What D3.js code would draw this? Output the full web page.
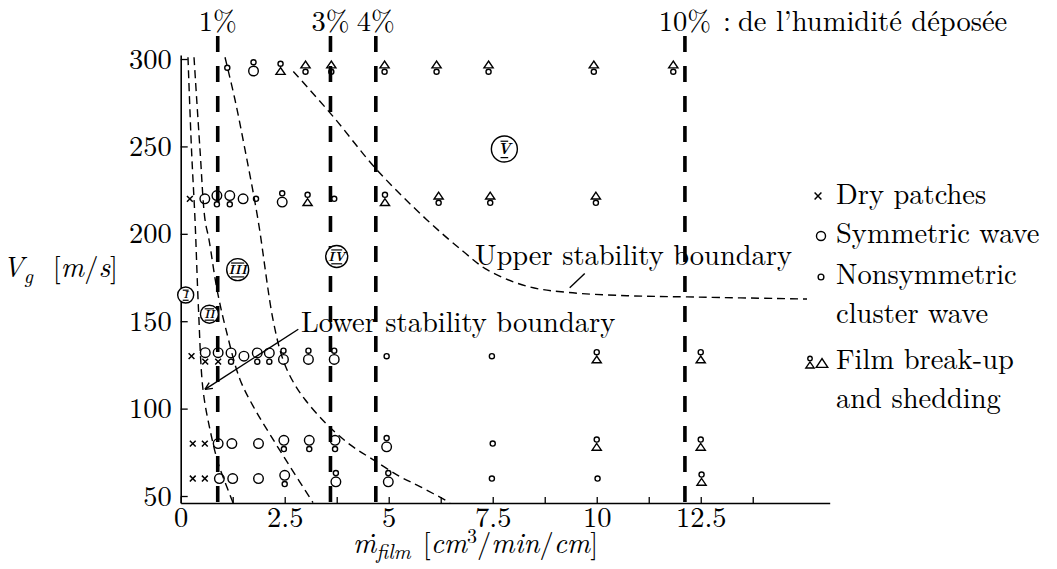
<!DOCTYPE html>
<html><head><meta charset="utf-8">
<script src="https://cdn.jsdelivr.net/npm/d3@7"></script>
</head><body style="margin:0;background:#fff">
<svg id="c" width="1057" height="569" style="display:block;background:#fff"></svg>
<script>
// ---------- data ----------
const xTickValues = [0,1.25,2.5,3.75,5,6.25,7.5,8.75,10,11.25,12.5,13.75];
const xTickLabels = ["0","","2.5","","5","","7.5","","10","","12.5",""];
const yTickValues = [50,100,150,200,250,300];
const yTickLabels = ["50","100","150","200","250","300"];

// gas speed rows (m/s) and observations: [film flow, glyph stack top->bottom]
// x = dry patch, O = symmetric wave, o = nonsymmetric cluster wave, T = film break-up
const speedRows = [295, 220, 130, 80, 60];
const row295 = [[1.12,"o"],[1.75,"oO"],[2.4,"oT"],[3.0,"To"],[3.62,"To"],[4.9,"To"],[6.15,"To"],[7.4,"To"],[9.93,"To"],[11.84,"To"]];
const row220 = [[0.22,"x"],[0.58,"O"],[0.87,"Oo"],[1.18,"Oo"],[1.5,"O"],[1.81,"o"],[2.44,"oO"],[3.05,"oT"],[3.69,"o"],[4.91,"oT"],[6.2,"To"],[7.44,"To"],[9.98,"To"]];
const row130 = [[0.26,"x"],[0.59,"Ox"],[0.9,"Ox"],[1.21,"Oo"],[1.52,"O"],[1.84,"Oo"],[2.13,"Oo"],[2.47,"oO"],[3.07,"oO"],[3.69,"oO"],[4.95,"o"],[7.48,"o"],[10.0,"oT"],[12.5,"oT"]];
const row80  = [[0.29,"x"],[0.58,"x"],[0.9,"O"],[1.23,"O"],[1.87,"O"],[2.48,"Oo"],[3.09,"Oo"],[3.71,"Oo"],[4.95,"oO"],[7.5,"o"],[10.0,"oT"],[12.5,"oT"]];
const row60  = [[0.29,"x"],[0.58,"x"],[0.93,"O"],[1.25,"O"],[1.87,"O"],[2.5,"Oo"],[3.73,"oO"],[4.99,"oO"],[7.48,"o"],[10.02,"o"],[12.52,"oT"]];
const rowObservations = [row295, row220, row130, row80, row60];

// deposited moisture lines
const moistureFlows = [0.89, 3.6, 4.69, 12.12];
const moistureLabels = ["1%", "3%", "4%", "10%"];
const moistureColon = ":";
const moistureNote = "de l\u2019humidit\u00e9 d\u00e9pos\u00e9e";

// regime boundaries [film flow, gas speed]
const lowerBoundary = [[0.175,301],[0.26,248.1],[0.344,208.1],[0.428,156.6],[0.536,110.9],[0.704,88],[0.897,69.1],[1.089,56.5],[1.257,46.2]];
const boundaryII_III = [[0.32,301],[0.464,248.1],[0.584,208.1],[0.68,196.7],[0.873,168.1],[1.089,145.2],[1.425,116.7],[1.786,99.5],[2.147,85.2],[2.627,66.9],[3.18,46.2]];
const boundaryIII_IV = [[1.065,301],[1.305,276.7],[1.546,248.1],[1.858,208.1],[2.219,150.9],[2.459,128],[2.699,115.5],[2.988,105.2],[3.517,90.9],[4.07,79.4],[4.623,70.8],[5.272,61.1],[5.752,55.4],[6.474,46.2]];
const upperBoundary = [[2.707,292.9],[3.661,267.2],[4.712,236.7],[5.913,208.1],[6.786,190],[7.363,179.5],[8.324,170],[9.286,166.5],[10.728,164.6],[12.171,163.9],[15.055,162.7]];

const regionNames = ["I","II","III","IV","V"];
const regionFlows = [0.12, 0.69, 1.37, 3.75, 7.78];
const regionSpeeds = [165, 154, 179.5, 187, 248.5];
const regionRadii = [8, 9, 11, 11, 13];

const legendLabels = [["Dry patches"],["Symmetric wave"],["Nonsymmetric","cluster wave"],["Film break-up","and shedding"]];

// ---------- drawing ----------
const svg = d3.select("#c");
const x = d3.scaleLinear().domain([0, 15.6]).range([180.7, 829.7]);
const y = d3.scaleLinear().domain([46, 302.3]).range([503, 55]);
const FS = 28.5;
const FONT = "Latin Modern Roman";

function txt(sel, fs) { return sel.attr("font-family", FONT).attr("font-size", (fs || FS) + "px").attr("fill", "#000"); }

// axes
const xAxis = svg.append("g").attr("transform", `translate(0,${y(46)})`)
  .call(d3.axisBottom(x).tickValues(xTickValues).tickSizeInner(-6).tickSizeOuter(0).tickPadding(4)
        .tickFormat((d,i) => xTickLabels[i]));
const yAxis = svg.append("g").attr("transform", `translate(${x(0)},0)`)
  .call(d3.axisLeft(y).tickValues(yTickValues).tickSizeInner(-7).tickSizeOuter(0).tickPadding(9)
        .tickFormat((d,i) => yTickLabels[i]));
[xAxis, yAxis].forEach(a => {
  a.attr("font-family", FONT).attr("font-size", FS);
  txt(a.selectAll("text"));
  a.selectAll("text").filter(function(){ return this.textContent === ""; }).remove();
  a.select(".domain").attr("stroke", "#000").attr("stroke-width", 1.6);
  a.selectAll(".tick line").attr("stroke", "#000").attr("stroke-width", 1.3);
});

// moisture lines
svg.append("g").selectAll("line").data(moistureFlows).join("line")
  .attr("x1", d => x(d)).attr("x2", d => x(d))
  .attr("y1", 36).attr("y2", y(46))
  .attr("stroke", "#000").attr("stroke-width", 3.6).attr("stroke-dasharray", "16,14");
txt(svg.append("g").selectAll("text").data(moistureFlows).join("text"), 28.5)
  .attr("x", d => x(d)).attr("y", 31).attr("text-anchor", "middle")
  .text((d,i) => moistureLabels[i]);
txt(svg.append("text"), 28.5).attr("x", x(moistureFlows[3]) + 38).attr("y", 31).text(moistureColon);
txt(svg.append("text"), 28.5).attr("x", x(moistureFlows[3]) + 53).attr("y", 31).text(moistureNote);

// boundaries
const line = d3.line().x(d => x(d[0])).y(d => y(d[1])).curve(d3.curveCatmullRom.alpha(0.5));
[lowerBoundary, boundaryII_III, boundaryIII_IV, upperBoundary].forEach(b => {
  svg.append("path").attr("d", line(b)).attr("fill", "none")
    .attr("stroke", "#000").attr("stroke-width", 1.4).attr("stroke-dasharray", "8,5");
});

// annotations
txt(svg.append("text")).attr("x", 475).attr("y", 265).text("Upper stability boundary");
txt(svg.append("text")).attr("x", 301).attr("y", 332).text("Lower stability boundary");
svg.append("line").attr("x1", x(9.351)).attr("y1", y(169.1)).attr("x2", x(9.712)).attr("y2", y(177.3))
  .attr("stroke", "#000").attr("stroke-width", 1.4);
const ax1 = x(2.827), ay1 = y(145.4), ax2 = x(0.584), ay2 = y(111.0);
svg.append("line").attr("x1", ax1).attr("y1", ay1).attr("x2", ax2).attr("y2", ay2)
  .attr("stroke", "#000").attr("stroke-width", 1.4);
{
  const ang = Math.atan2(ay2 - ay1, ax2 - ax1);
  const L = 8;
  [0.45, -0.45].forEach(s => {
    svg.append("line").attr("x1", ax2).attr("y1", ay2)
      .attr("x2", ax2 - L * Math.cos(ang + s)).attr("y2", ay2 - L * Math.sin(ang + s))
      .attr("stroke", "#000").attr("stroke-width", 1.4);
  });
}

// region labels
const reg = svg.append("g");
regionNames.forEach((n, i) => {
  const cx = x(regionFlows[i]), cy = y(regionSpeeds[i]), r = regionRadii[i];
  reg.append("circle").attr("cx", cx).attr("cy", cy).attr("r", r)
    .attr("fill", "#fff").attr("stroke", "#000").attr("stroke-width", 1.4);
  const fs = r * 1.2;
  txt(reg.append("text"), fs).attr("x", cx).attr("y", cy + fs * 0.34).attr("text-anchor", "middle")
    .attr("font-style", "italic").attr("font-weight", "bold").text(n);
  const w = Math.min(r * 1.2, fs * 0.3 * n.length + 3);
  [cy - fs * 0.5, cy + fs * 0.55].forEach(yy => {
    reg.append("line").attr("x1", cx - w / 2).attr("x2", cx + w / 2).attr("y1", yy).attr("y2", yy)
      .attr("stroke", "#000").attr("stroke-width", 1.2);
  });
});

// glyphs
const H = {O: 11, o: 6.5, T: 8, x: 7};
function glyph(g, code, cx, cy, sc) {
  sc = sc || 1;
  const total = [...code].reduce((s, c) => s + H[c] * sc, 0);
  let top = cy - total / 2;
  [...code].forEach(c => {
    const h = H[c] * sc, cyy = top + h / 2;
    if (c === "O" || c === "o") {
      g.append("circle").attr("cx", cx).attr("cy", cyy).attr("r", (h - 1.4) / 2)
        .attr("fill", "none").attr("stroke", "#000").attr("stroke-width", 1.4);
    } else if (c === "T") {
      const w = h * 1.15;
      g.append("path").attr("d", `M${cx},${top + 0.6}L${cx - w / 2},${top + h - 0.6}L${cx + w / 2},${top + h - 0.6}Z`)
        .attr("fill", "none").attr("stroke", "#000").attr("stroke-width", 1.4);
    } else if (c === "x") {
      const d = h / 2 - 0.6;
      g.append("path").attr("d", `M${cx - d},${cyy - d}L${cx + d},${cyy + d}M${cx - d},${cyy + d}L${cx + d},${cyy - d}`)
        .attr("stroke", "#000").attr("stroke-width", 1.5);
    }
    top += h;
  });
}
const marks = svg.append("g");
speedRows.forEach((v, ri) => {
  rowObservations[ri].forEach(([f, code]) => glyph(marks, code, x(f), y(v)));
});

// legend
const lg = svg.append("g");
const lx = 836;
const lBase = [[204], [243], [284, 323], [369, 408]];
legendLabels.forEach((lines, i) => {
  lines.forEach((t, j) => {
    txt(lg.append("text")).attr("x", lx).attr("y", lBase[i][j]).text(t);
  });
});
glyph(lg, "x", 818, 196, 1.15);
glyph(lg, "O", 821, 236, 0.95);
glyph(lg, "o", 821, 277, 1.1);
glyph(lg, "oT", 810, 362, 0.9);
glyph(lg, "T", 822, 363, 1.25);

// axis titles
const yl = txt(svg.append("text")).attr("x", 118).attr("y", 277).attr("text-anchor", "end");
yl.append("tspan").attr("font-style", "italic").text("V");
yl.append("tspan").attr("font-style", "italic").attr("font-size", "20px").attr("dy", 6).text("g");
yl.append("tspan").attr("dy", -6).attr("dx", 20).text("[");
yl.append("tspan").attr("font-style", "italic").text("m");
yl.append("tspan").text("/");
yl.append("tspan").attr("font-style", "italic").text("s");
yl.append("tspan").text("]");

const xl = txt(svg.append("text")).attr("x", 353).attr("y", 553);
xl.append("tspan").attr("font-style", "italic").text("\u1E41");
xl.append("tspan").attr("font-style", "italic").attr("font-size", "21px").attr("dy", 6).text("film");
xl.append("tspan").attr("dy", -6).attr("dx", 12).text("[");
xl.append("tspan").attr("font-style", "italic").text("cm");
xl.append("tspan").attr("font-size", "20px").attr("dy", -10).text("3");
xl.append("tspan").attr("dy", 10).text("/");
xl.append("tspan").attr("font-style", "italic").text("min");
xl.append("tspan").text("/");
xl.append("tspan").attr("font-style", "italic").text("cm");
xl.append("tspan").text("]");
</script>
</body></html>
